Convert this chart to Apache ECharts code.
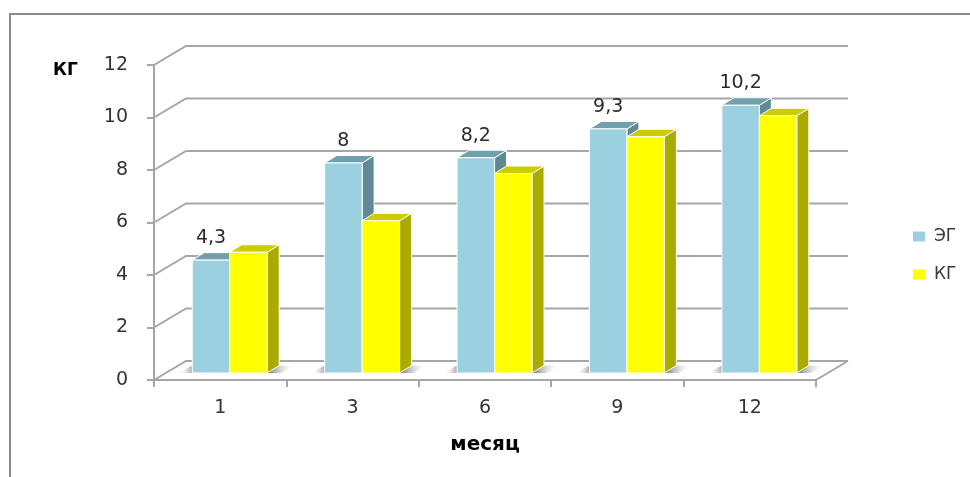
<!DOCTYPE html>
<html>
<head>
<meta charset="utf-8">
<script src="https://cdn.jsdelivr.net/npm/echarts@6/dist/echarts.min.js"></script>
<style>
  html, body { margin: 0; padding: 0; background: #fff; }
  #chart { width: 970px; height: 477px; }
</style>
</head>
<body>
<div id="chart"></div>
<script>
// Month after start and body weight gain (kg) for the two groups
const categories = ['1', '3', '6', '9', '12'];
const egValues = [4.3, 8, 8.2, 9.3, 10.2];
const kgValues = [4.6, 5.8, 7.6, 9.0, 9.8];
const yTicks = [0, 2, 4, 6, 8, 10, 12];
const seriesNames = ['ЭГ', 'КГ'];

const FONT = 'DejaVu Sans';
// depth of the back wall and of each bar (pseudo-3D projection)
const WALL_DX = 32, WALL_DY = -19;
const BAR_DX = 12, BAR_DY = -7.5;
const BAR_LIFT = 7;

const faceColors = [
  { front: '#9bd0e0', top: '#70a0ab', side: '#5f8a94' },
  { front: '#ffff00', top: '#cccc00', side: '#aaaa00' }
];

function wallRenderer(params, api) {
  const cs = params.coordSys;
  const t = api.value(1);
  const y = api.coord([0, t])[1];
  const x0 = cs.x, x1 = cs.x + cs.width;
  const lineStyle = { stroke: '#a6a6a6', lineWidth: 2, fill: null };
  const children = [
    { type: 'polyline', shape: { points: [[x0, y], [x0 + WALL_DX, y + WALL_DY], [x1 + WALL_DX, y + WALL_DY]] }, style: lineStyle }
  ];
  if (t === 0) {
    children.push({ type: 'line', shape: { x1: x1, y1: y, x2: x1 + WALL_DX, y2: y + WALL_DY }, style: lineStyle });
  }
  return { type: 'group', children: children };
}

function makeBarRenderer(slot, withLabel) {
  const c = faceColors[slot];
  return function (params, api) {
    const idx = api.value(0), v = api.value(1);
    const band = api.size([1, 0])[0];
    const base = api.coord([idx, 0]);
    const top = api.coord([idx, v]);
    const w = band * 0.283;
    const shift = band * 0.072;
    const left = base[0] - w + shift + slot * w;
    const right = left + w;
    const yb = base[1] - BAR_LIFT;
    const yt = top[1] - BAR_LIFT;
    const edge = { stroke: '#ffffff', lineWidth: 1 };
    const children = [];
    if (slot === 1) {
      // soft floor shadow to the right of the pair
      children.push({
        type: 'polygon',
        shape: { points: [[right, yb], [right + BAR_DX, yb + BAR_DY], [right + BAR_DX + 16, yb + BAR_DY], [right + 14, yb]] },
        style: { fill: new echarts.graphic.LinearGradient(0, 0, 1, 0, [
          { offset: 0, color: 'rgba(80,80,80,0.85)' },
          { offset: 1, color: 'rgba(255,255,255,0)' }
        ]) }
      });
    } else {
      children.push({
        type: 'polygon',
        shape: { points: [[left, yb + BAR_DY], [left, yb], [left - 14, yb]] },
        style: { fill: new echarts.graphic.LinearGradient(1, 0, 0, 0, [
          { offset: 0, color: 'rgba(110,110,110,0.6)' },
          { offset: 1, color: 'rgba(255,255,255,0)' }
        ]) }
      });
    }
    children.push({
      type: 'polygon',
      shape: { points: [[right, yt], [right + BAR_DX, yt + BAR_DY], [right + BAR_DX, yb + BAR_DY], [right, yb]] },
      style: Object.assign({ fill: c.side }, edge)
    });
    children.push({
      type: 'polygon',
      shape: { points: [[left, yt], [left + BAR_DX, yt + BAR_DY], [right + BAR_DX, yt + BAR_DY], [right, yt]] },
      style: Object.assign({ fill: c.top }, edge)
    });
    children.push({
      type: 'rect',
      shape: { x: left, y: yt, width: w, height: yb - yt },
      style: Object.assign({ fill: c.front }, edge)
    });
    if (withLabel) {
      children.push({
        type: 'text',
        style: {
          x: left + w / 2, y: yt - 22,
          text: String(v).replace('.', ','),
          fill: '#2b2b2b', font: '19px "' + FONT + '"',
          align: 'center', verticalAlign: 'middle'
        }
      });
    }
    return { type: 'group', children: children };
  };
}

const chart = echarts.init(document.getElementById('chart'), null, { renderer: 'canvas' });
chart.setOption({
  animation: false,
  backgroundColor: '#ffffff',
  textStyle: { fontFamily: FONT },
  grid: { left: 154, right: 154, top: 65, bottom: 97, containLabel: false },
  legend: {
    data: seriesNames,
    orient: 'vertical',
    left: 908, top: 223,
    icon: 'rect', itemWidth: 12, itemHeight: 10, itemGap: 21,
    textStyle: { fontFamily: FONT, fontSize: 17, color: '#3a3a3a', padding: [0, 0, 0, 4] }
  },
  graphic: [
    { type: 'rect', shape: { x: 10, y: 14, width: 1000, height: 500 },
      style: { fill: 'none', stroke: '#8c8c8c', lineWidth: 2 }, z: -1 },
    { type: 'text', left: 53, top: 62,
      style: { text: 'КГ', font: 'bold 17px "' + FONT + '"', fill: '#000000' } }
  ],
  xAxis: {
    type: 'category',
    data: categories,
    name: 'месяц',
    nameLocation: 'middle',
    nameGap: 55,
    nameTextStyle: { fontFamily: FONT, fontSize: 20, fontWeight: 'bold', color: '#000000' },
    axisLine: { lineStyle: { color: '#a6a6a6', width: 2 } },
    axisTick: { show: true, length: 7, lineStyle: { color: '#a6a6a6', width: 2 } },
    axisLabel: { margin: 19, fontSize: 19, color: '#333333', fontFamily: FONT },
    splitLine: { show: false }
  },
  yAxis: {
    type: 'value',
    min: 0, max: 12, interval: 2,
    axisLine: { show: true, lineStyle: { color: '#a6a6a6', width: 2 } },
    axisTick: { show: true, length: 7, lineStyle: { color: '#a6a6a6', width: 2 } },
    axisLabel: { margin: 26, fontSize: 19, color: '#333333', fontFamily: FONT },
    splitLine: { show: false }
  },
  series: [
    {
      name: 'wall',
      type: 'custom',
      clip: false,
      silent: true,
      z: 1,
      renderItem: wallRenderer,
      data: yTicks.map(t => [0, t])
    },
    {
      name: seriesNames[0],
      type: 'custom',
      clip: false,
      z: 2,
      itemStyle: { color: faceColors[0].front },
      renderItem: makeBarRenderer(0, true),
      data: egValues.map((v, i) => [i, v])
    },
    {
      name: seriesNames[1],
      type: 'custom',
      clip: false,
      z: 3,
      itemStyle: { color: faceColors[1].front },
      renderItem: makeBarRenderer(1, false),
      data: kgValues.map((v, i) => [i, v])
    }
  ]
});
</script>
</body>
</html>
